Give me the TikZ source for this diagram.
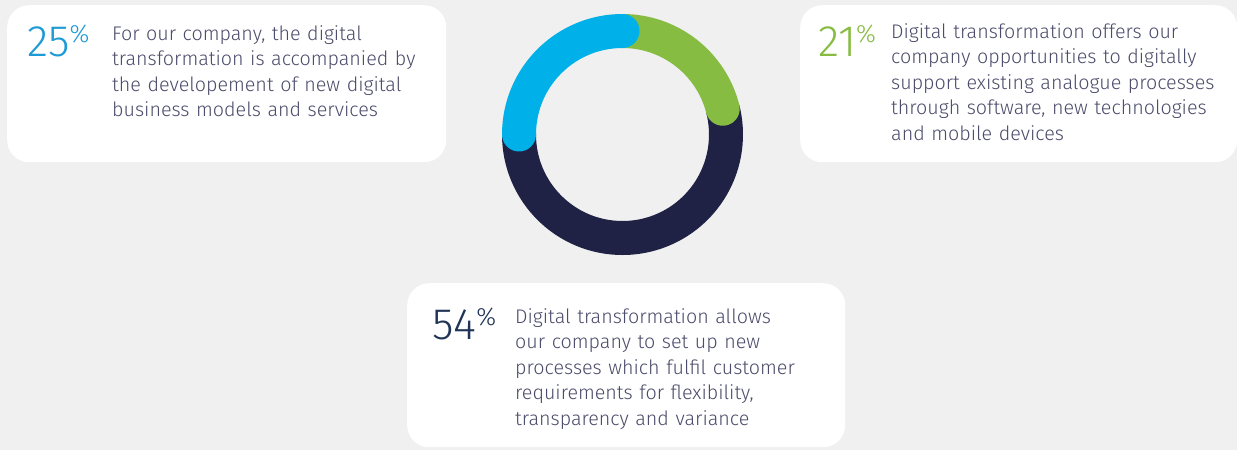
\documentclass[tikz,border=0pt]{standalone}
\usepackage{fontspec}
\setmainfont{Fira Sans}[UprightFont=* Light]
\definecolor{bg}{HTML}{F0F0F0}
\definecolor{ringblue}{HTML}{00B0E8}
\definecolor{ringgreen}{HTML}{86BC42}
\definecolor{ringnavy}{HTML}{1F2244}
\definecolor{numblue}{HTML}{1E9AD6}
\definecolor{numnavy}{HTML}{1F3456}
\definecolor{txt}{HTML}{4B4B6B}
\tikzset{
  card/.style={fill=white, rounded corners=22pt, inner sep=0pt, anchor=north west},
  pct/.style={anchor=base west, inner sep=0pt, font=\fontsize{44}{44}\selectfont},
  blurb/.style={anchor=base west, inner sep=0pt, text width=360pt, align=left, text=txt,
    font=\fontsize{19.7}{25.5}\selectfont},
}
\newcommand{\pc}{\raisebox{14pt}{\fontsize{25}{25}\selectfont\%}}
\begin{document}
\begin{tikzpicture}[x=1pt,y=-1pt]
\fill[bg] (0,0) rectangle (1237,450);
\useasboundingbox (0,0) rectangle (1237,450);
% cards
\node[card, minimum width=439pt, minimum height=157pt] (cardA) at (7,5){};
\node[card, minimum width=437pt, minimum height=157pt] (cardB) at (800,5){};
\node[card, minimum width=438pt, minimum height=164pt] (cardC) at (407,283){};
% ring (y axis points down, so angles are negated)
\coordinate (mid) at (622.5,134.5);
\draw[ringnavy, line width=34pt] ([shift={(-180:103.5)}]mid) arc[start angle=-180, end angle=-374.4, radius=103.5];
\draw[ringgreen, line width=34pt, line cap=round] ([shift={(-90:103.5)}]mid) arc[start angle=-90, end angle=-14.4, radius=103.5];
\draw[ringblue, line width=34pt, line cap=round] ([shift={(-90:103.5)}]mid) arc[start angle=-90, end angle=-180, radius=103.5];
% texts
\node[pct, text=numblue] (pctA) at (27,56){25\pc};
\node[blurb] (txtA) at (112,40){For our company, the digital\\ transformation is accompanied by\\ the developement of new digital\\ business models and services};
\node[pct, text=ringgreen] (pctB) at (818,56){21\pc};
\node[blurb] (txtB) at (891,38){Digital transformation offers our\\ company opportunities to digitally\\ support existing analogue processes\\ through software, new technologies\\ and mobile devices};
\node[pct, text=numnavy] (pctC) at (432,339){54\pc};
\node[blurb] (txtC) at (515,323){Digital transformation allows\\ our company to set up new\\ processes which fulfil customer\\ requirements for flexibility,\\ transparency and variance};
\end{tikzpicture}
\end{document}
